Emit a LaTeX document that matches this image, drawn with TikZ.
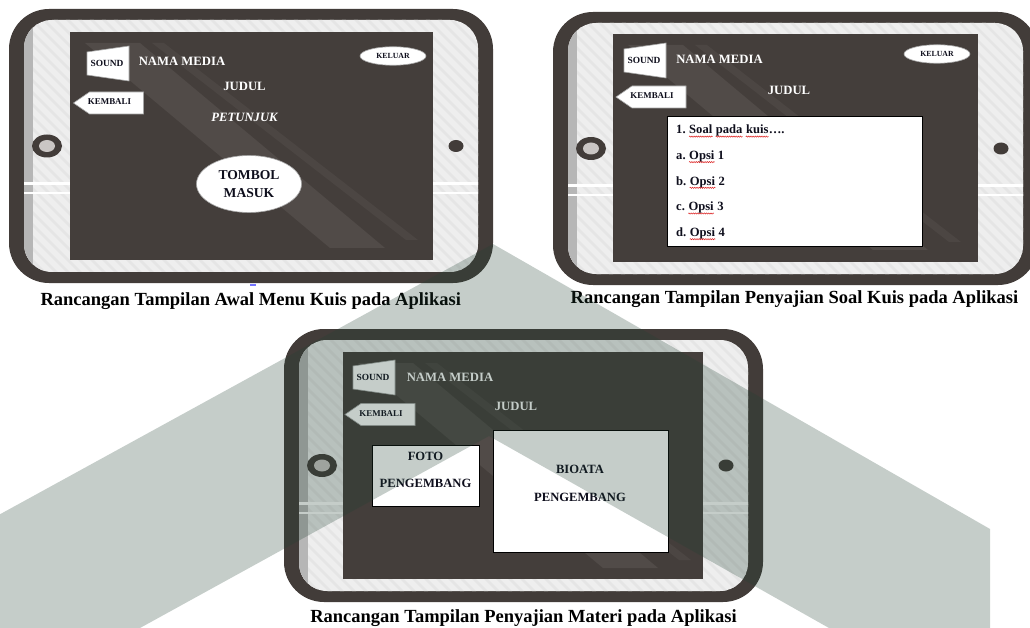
\documentclass[tikz,border=0pt]{standalone}
\usepackage{fontspec}
\setmainfont{Liberation Serif}
\usetikzlibrary{shapes.geometric,decorations.pathmorphing}

\definecolor{framecol}{RGB}{66,60,57}
\definecolor{screencol}{RGB}{68,62,59}
\definecolor{bezelcol}{RGB}{238,238,238}
\definecolor{stripecol}{RGB}{229,229,229}
\definecolor{bezelshade}{RGB}{182,182,182}
\definecolor{glarecol}{RGB}{81,75,72}
\definecolor{glarecolb}{RGB}{76,70,67}
\definecolor{ringcol}{RGB}{202,198,196}
\definecolor{inkcol}{RGB}{14,14,28}
\definecolor{markcol}{RGB}{32,65,50}
\definecolor{spellred}{RGB}{220,30,30}

% case, bezel, home ring and camera dot of one tablet
\newcommand\drawtablet[4]{%
  \pgfmathsetmacro\tmid{(#2+#4)/2}%
  \fill[framecol, rounded corners=40pt] (#1,#2) rectangle (#3,#4);
  \begin{scope}
    \clip[rounded corners=28pt] ({#1+15},{#2+11}) rectangle ({#3-15},{#4-11});
    \fill[bezelcol] (#1,#2) rectangle (#3,#4);
    \foreach \s in {0,12,...,780}
      \draw[stripecol, line width=2.5pt] ({#1+\s-300},#2) -- ++(300,300);
    \fill[bezelshade] ({#1+15},#2) rectangle ({#1+24},#4);
    \fill[white] (#1,{\tmid+36}) rectangle (#3,{\tmid+39});
    \fill[white] (#1,{\tmid+46}) rectangle (#3,{\tmid+48});
  \end{scope}
  \fill[framecol] ({#1+38},\tmid) ellipse [x radius=15pt, y radius=11.5pt];
  \fill[ringcol] ({#1+38},\tmid) ellipse [x radius=8pt, y radius=6pt];
  \fill[framecol] ({#3-37},\tmid) ellipse [x radius=7.5pt, y radius=6pt];
}

% dark screen with its diagonal glare
\newcommand\drawscreen[4]{%
  \fill[screencol] (#1,#2) rectangle (#3,#4);
  \begin{scope}
    \clip (#1,#2) rectangle (#3,#4);
    \fill[glarecol] ({#1+15},{#2+11}) -- ({#1+70},{#2+11}) -- ({#1+315},{#2+216}) -- ({#1+260},{#2+216}) -- cycle;
    \fill[glarecolb] ({#1+82},{#2+11}) -- ({#1+94},{#2+11}) -- ({#1+348},{#2+208}) -- ({#1+336},{#2+208}) -- cycle;
  \end{scope}
}

% speaker-shaped SOUND button
\newcommand\soundbtn[3]{%
  \draw[whiteshape] ({#1-20},{#2-11}) -- ({#1+22},{#2-17}) -- ({#1+22},{#2+18}) -- ({#1-20},{#2+12}) -- cycle;
  \node[btntxt] (#3) at (#1,#2) {SOUND};
}

% arrow-shaped KEMBALI button
\newcommand\backbtn[3]{%
  \draw[whiteshape] ({#1-35},#2) -- ({#1-19},{#2-11}) -- ({#1+35},{#2-11}) -- ({#1+35},{#2+11}) -- ({#1-19},{#2+11}) -- cycle;
  \node[btntxt, font=\fontsize{8.9}{10}\selectfont\bfseries] (#3) at ({#1+1},{#2-1}) {KEMBALI};
}

% one answer option: name, baseline, letter, number
\newcommand\optline[4]{%
  \node[boxtxt, anchor=base west] (#1l) at (676,#2) {#3.};
  \node[boxtxt, anchor=base west] (#1w) at ([xshift=3.15pt]#1l.base east) {Opsi};
  \node[boxtxt, anchor=base west] (#1n) at ([xshift=3.15pt]#1w.base east) {#4};
  \draw[spell] ([yshift=-2.6pt]#1w.base west) -- ([yshift=-2.6pt]#1w.base east);
}

\begin{document}
\begin{tikzpicture}[x=1pt, y=-1pt,
  whiteshape/.style={fill=white, draw=gray!70, line width=0.6pt},
  panel/.style={fill=white, draw=black, line width=1pt, inner sep=0pt},
  btntxt/.style={text=inkcol, inner sep=0pt, font=\fontsize{9.4}{10}\selectfont\bfseries},
  scrtxt/.style={text=white, inner sep=0pt, font=\fontsize{12.7}{14}\selectfont\bfseries},
  boxtxt/.style={text=inkcol, inner sep=0pt, font=\fontsize{12.6}{14}\selectfont\bfseries},
  spell/.style={spellred, line width=0.5pt, decorate,
    decoration={snake, amplitude=0.6pt, segment length=2.2pt}},
  exitbtn/.style={ellipse, fill=white, draw=gray!70, line width=0.6pt, inner sep=0pt,
    minimum width=66pt, minimum height=18.5pt, text=inkcol, font=\fontsize{7.8}{9}\selectfont\bfseries},
  caption/.style={text=black, inner sep=0pt, anchor=base, font=\fontsize{18.5}{20}\selectfont\bfseries}]

\useasboundingbox (0,0) rectangle (1030,628);
\clip (0,0) rectangle (1030,628);
\fill[white] (0,0) rectangle (1030,628);

% ---------- opening screen of the quiz ----------
\drawtablet{9}{9}{493}{283}
\drawscreen{70}{32}{433}{260}
\soundbtn{107}{63}{snda}
\backbtn{108.5}{103}{bcka}
\node[scrtxt] (namaa) at (182,61) {NAMA MEDIA};
\node[scrtxt] (judula) at (244.5,86) {JUDUL};
\node[scrtxt, font=\fontsize{12.7}{14}\selectfont\bfseries\itshape] (petunjuk) at (244.5,117) {PETUNJUK};
\node[exitbtn] (exita) at (393,56) {KELUAR};
\node[ellipse, fill=white, draw=gray!70, line width=0.6pt, inner sep=0pt,
      minimum width=105pt, minimum height=57pt, text=inkcol, align=center,
      font=\fontsize{13.6}{18}\selectfont\bfseries] (masuk) at (249,184) {TOMBOL\\MASUK};
\fill[blue!55] (250,284) rectangle (256,286);
\node[caption] (capa) at (250.8,305) {Rancangan Tampilan Awal Menu Kuis pada Aplikasi};

% ---------- question screen ----------
\drawtablet{553}{12}{1038}{285}
\drawscreen{613}{34}{978}{262}
\soundbtn{644}{60}{sndb}
\backbtn{651}{97}{bckb}
\node[scrtxt] (namab) at (719.5,59) {NAMA MEDIA};
\node[scrtxt] (judulb) at (789,90) {JUDUL};
\node[exitbtn] (exitb) at (937,54) {KELUAR};
\node[panel, minimum width=255pt, minimum height=130pt] (soal) at (794.5,182) {};
\node[boxtxt, anchor=base west] (q1n) at (676,134) {1.};
\node[boxtxt, anchor=base west] (q1a) at ([xshift=3.15pt]q1n.base east) {Soal};
\node[boxtxt, anchor=base west] (q1b) at ([xshift=3.15pt]q1a.base east) {pada};
\node[boxtxt, anchor=base west] (q1c) at ([xshift=3.15pt]q1b.base east) {kuis};
\node[boxtxt, anchor=base west] (q1d) at (q1c.base east) {….};
\foreach \w in {q1a,q1b,q1c}
  \draw[spell] ([yshift=-2.6pt]\w.base west) -- ([yshift=-2.6pt]\w.base east);
\optline{qa}{159.5}{a}{1}
\optline{qb}{185.2}{b}{2}
\optline{qc}{210.9}{c}{3}
\optline{qd}{236.6}{d}{4}
\node[caption] (capb) at (794.5,303) {Rancangan Tampilan Penyajian Soal Kuis pada Aplikasi};

% ---------- material screen ----------
\drawtablet{284}{329}{763}{602}
\drawscreen{343}{352}{703}{579}
\soundbtn{373}{377}{sndc}
\backbtn{380}{414.5}{bckc}
\node[scrtxt] (namac) at (450,377) {NAMA MEDIA};
\node[scrtxt] (judulc) at (516,406) {JUDUL};
\node[panel, minimum width=107pt, minimum height=61pt] (foto) at (425.5,475.5) {};
\node[boxtxt] (fotoa) at (425.5,456) {FOTO};
\node[boxtxt] (fotob) at (425.5,483) {PENGEMBANG};
\node[panel, minimum width=175pt, minimum height=122pt] (bio) at (580.5,491) {};
\node[boxtxt] (bioa) at (580,469) {BIOATA};
\node[boxtxt] (biob) at (580,497) {PENGEMBANG};
\node[caption] (capc) at (523.5,622) {Rancangan Tampilan Penyajian Materi pada Aplikasi};

% ---------- translucent logo mark over everything ----------
\fill[markcol, fill opacity=0.26]
  (493,244) -- (990,529) -- (990,628) -- (829,628) -- (489,436) -- (140,628)
  -- (-5,628) -- (-5,517) -- cycle;

\end{tikzpicture}
\end{document}
